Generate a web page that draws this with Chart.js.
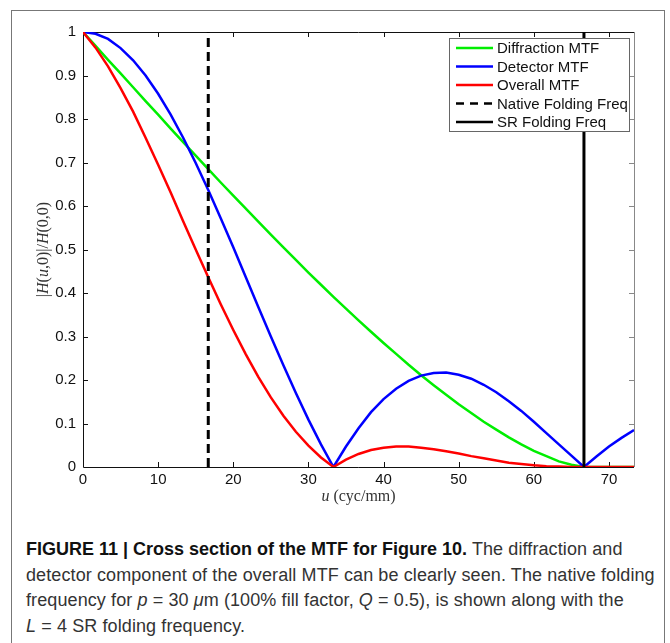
<!DOCTYPE html>
<html lang="en">
<head>
  <meta charset="UTF-8" />
  <title>MTF cross section</title>
  <script src="https://cdn.jsdelivr.net/npm/chart.js"></script>
  <style>
    html, body { margin: 0; padding: 0; background: #fff; }
    body { width: 670px; height: 643px; position: relative; overflow: hidden; }
    #frame { position: absolute; left: 11px; top: 10px; width: 652px; height: 700px; border: 1px solid #777; }
    #wrap { position: absolute; left: 0; top: 0; width: 670px; height: 520px; }
    #caption {
      position: absolute; left: 26px; top: 537px; white-space: nowrap;
      font-family: "Liberation Sans", Arial, sans-serif; font-size: 18px; letter-spacing: 0.1px;
      line-height: 25.5px; color: #333;
    }
    #caption b { color: #111; letter-spacing: 0; }
  </style>
</head>
<body>
  <div id="frame"></div>
  <div id="wrap"><canvas id="mtf" width="670" height="520"></canvas></div>
  <div id="caption">
    <b>FIGURE 11 | Cross section of the MTF for Figure 10.</b> The diffraction and<br>
    detector component of the overall MTF can be clearly seen. The native folding<br>
    frequency for <i>p</i> = 30 <i>&mu;</i>m (100% fill factor, <i>Q</i> = 0.5), is shown along with the<br>
    <i>L</i> = 4 SR folding frequency.
  </div>
  <script>
    // spatial frequency u (cyc/mm)
    const uValues = [0, 1.67, 3.33, 5, 6.67, 8.33, 10, 11.67, 13.33, 15, 16.67, 18.33, 20, 21.67, 23.33,
      25, 26.67, 28.33, 30, 31.67, 33.33, 35, 36.67, 38.33, 40, 41.67, 43.33, 45, 46.67, 48.33,
      50, 51.67, 53.33, 55, 56.67, 58.33, 60, 61.67, 63.33, 65, 66.67, 68.33, 70, 71.67, 73.33];
    const diffraction = [1, 0.968, 0.936, 0.905, 0.873, 0.841, 0.810, 0.778, 0.747, 0.716,
      0.685, 0.654, 0.624, 0.594, 0.564, 0.534, 0.505, 0.476, 0.447, 0.419,
      0.391, 0.364, 0.337, 0.311, 0.285, 0.260, 0.235, 0.211, 0.188, 0.166,
      0.144, 0.124, 0.104, 0.086, 0.068, 0.052, 0.037, 0.025, 0.013, 0.005,
      0, 0, 0, 0, 0];
    const detector = [1, 0.996, 0.984, 0.963, 0.935, 0.900, 0.858, 0.810, 0.757, 0.699,
      0.637, 0.572, 0.505, 0.436, 0.368, 0.300, 0.234, 0.170, 0.109, 0.052,
      0, 0.047, 0.089, 0.126, 0.156, 0.180, 0.198, 0.210, 0.216, 0.217,
      0.212, 0.203, 0.189, 0.172, 0.151, 0.129, 0.104, 0.078, 0.052, 0.026,
      0, 0.024, 0.047, 0.067, 0.085];
    const overall = [1, 0.964, 0.921, 0.871, 0.817, 0.757, 0.695, 0.631, 0.565, 0.500,
      0.436, 0.374, 0.315, 0.259, 0.207, 0.160, 0.118, 0.081, 0.049, 0.022,
      0, 0.017, 0.030, 0.039, 0.044, 0.047, 0.047, 0.044, 0.041, 0.036,
      0.031, 0.025, 0.020, 0.015, 0.010, 0.007, 0.004, 0.002, 0.001, 0,
      0, 0, 0, 0, 0];
    const nativeFold = 16.67;
    const srFold = 66.67;
    const xTicks = [10, 20, 30, 40, 50, 60, 70];
    const yTicks = [0.1, 0.2, 0.3, 0.4, 0.5, 0.6, 0.7, 0.8, 0.9];

    const pts = arr => arr.map((v, i) => ({ x: uValues[i], y: v }));
    const vline = u => [{ x: u, y: 0 }, { x: u, y: 1 }];

    // axes box, inward ticks, axis titles and legend
    const decor = {
      id: 'decor',
      beforeDatasetsDraw(chart) {
        const { ctx, chartArea: a, scales: { x, y } } = chart;
        ctx.save();
        ctx.lineWidth = 1;
        ctx.strokeStyle = '#111';
        ctx.beginPath();
        ctx.moveTo(a.left + 0.5, a.top); ctx.lineTo(a.left + 0.5, a.bottom + 0.5);
        ctx.lineTo(a.right, a.bottom + 0.5);
        ctx.moveTo(a.left, a.top + 0.5); ctx.lineTo(a.right, a.top + 0.5);
        xTicks.forEach(t => {
          const px = Math.round(x.getPixelForValue(t)) + 0.5;
          ctx.moveTo(px, a.bottom); ctx.lineTo(px, a.bottom - 5);
          ctx.moveTo(px, a.top); ctx.lineTo(px, a.top + 5);
        });
        yTicks.forEach(t => {
          const py = Math.round(y.getPixelForValue(t)) + 0.5;
          ctx.moveTo(a.left, py); ctx.lineTo(a.left + 5, py);
        });
        ctx.stroke();
        ctx.strokeStyle = '#888';
        ctx.beginPath();
        ctx.moveTo(a.right + 0.5, a.top); ctx.lineTo(a.right + 0.5, a.bottom);
        yTicks.forEach(t => {
          const py = Math.round(y.getPixelForValue(t)) + 0.5;
          ctx.moveTo(a.right, py); ctx.lineTo(a.right - 5, py);
        });
        ctx.stroke();
        ctx.restore();
      },
      afterDraw(chart) {
        const { ctx, chartArea: a } = chart;
        const runs = (parts, cx, cy) => {
          const fonts = parts.map(p => (p[1] ? 'italic ' : '') + '16px "Liberation Serif", serif');
          let w = 0;
          parts.forEach((p, i) => { ctx.font = fonts[i]; w += ctx.measureText(p[0]).width; });
          let px = cx - w / 2;
          ctx.textBaseline = 'middle';
          ctx.textAlign = 'left';
          parts.forEach((p, i) => { ctx.font = fonts[i]; ctx.fillText(p[0], px, cy); px += ctx.measureText(p[0]).width; });
        };
        ctx.save();
        ctx.fillStyle = '#333';
        runs([['u', true], [' (cyc/mm)', false]], (a.left + a.right) / 2, 497);
        ctx.translate(44, (a.top + a.bottom) / 2);
        ctx.rotate(-Math.PI / 2);
        runs([['|', false], ['H', true], ['(', false], ['u', true], [',0)|/', false], ['H', true], ['(0,0)', false]], 0, 0);
        ctx.restore();

        // legend box in the upper right
        const lx = 449, ly = 38, lw = 180, lh = 93, row = 18.5;
        ctx.save();
        ctx.fillStyle = '#fff';
        ctx.fillRect(lx, ly, lw, lh);
        ctx.strokeStyle = '#666';
        ctx.lineWidth = 1;
        ctx.strokeRect(lx + 0.5, ly + 0.5, lw, lh);
        ctx.font = '15px "Liberation Sans", Arial, sans-serif';
        ctx.textBaseline = 'middle';
        chart.data.datasets.forEach((ds, i) => {
          const yy = ly + 10 + i * row;
          ctx.strokeStyle = ds.borderColor;
          ctx.lineWidth = 2.5;
          ctx.setLineDash(ds.borderDash && ds.borderDash.length ? [8, 6] : []);
          ctx.beginPath();
          ctx.moveTo(lx + 7, yy); ctx.lineTo(lx + 44, yy);
          ctx.stroke();
          ctx.setLineDash([]);
          ctx.fillStyle = '#111';
          ctx.fillText(ds.label, lx + 48, yy + 1);
        });
        ctx.restore();
      }
    };

    const common = { showLine: true, pointRadius: 0, borderWidth: 2.5, fill: false, tension: 0 };

    new Chart(document.getElementById('mtf'), {
      type: 'scatter',
      data: {
        datasets: [
          { ...common, label: 'Diffraction MTF', data: pts(diffraction), borderColor: '#00ee00', order: 5 },
          { ...common, label: 'Detector MTF', data: pts(detector), borderColor: '#0000ff', order: 4 },
          { ...common, label: 'Overall MTF', data: pts(overall), borderColor: '#ff0000', order: 3 },
          { ...common, label: 'Native Folding Freq', data: vline(nativeFold), borderColor: '#000', borderWidth: 3, borderDash: [9, 5], order: 2 },
          { ...common, label: 'SR Folding Freq', data: vline(srFold), borderColor: '#000', borderWidth: 3, order: 1 }
        ]
      },
      options: {
        responsive: false,
        animation: false,
        layout: { padding: { left: 0, top: 32, right: 36, bottom: 0 } },
        plugins: { legend: { display: false }, tooltip: { enabled: false } },
        scales: {
          x: {
            type: 'linear', min: 0, max: 73.33,
            grid: { display: false, drawTicks: false }, border: { display: false },
            ticks: { stepSize: 10, includeBounds: false, padding: 4, color: '#111',
              font: { family: '"Liberation Sans", Arial, sans-serif', size: 15 } },
            afterFit: s => { s.height = 53; }
          },
          y: {
            min: 0, max: 1,
            grid: { display: false, drawTicks: false }, border: { display: false },
            ticks: { stepSize: 0.1, padding: 7, color: '#111',
              font: { family: '"Liberation Sans", Arial, sans-serif', size: 15 },
              callback: v => String(+v.toFixed(1)) },
            afterFit: s => { s.width = 83; }
          }
        }
      },
      plugins: [decor]
    });
  </script>
</body>
</html>
